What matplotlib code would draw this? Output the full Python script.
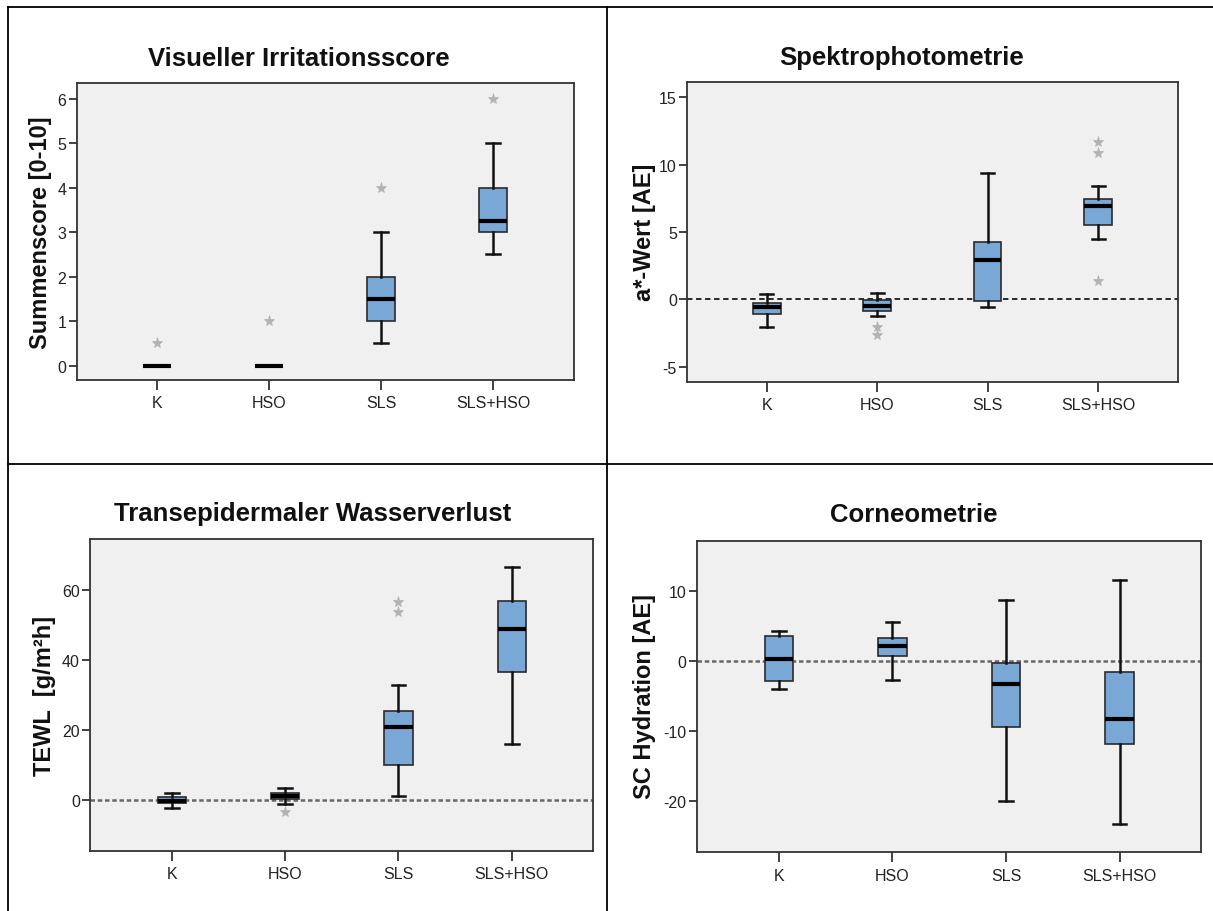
import matplotlib
matplotlib.use("Agg")
import matplotlib.pyplot as plt
from matplotlib.lines import Line2D

plt.rcParams['font.family'] = ['Liberation Sans', 'DejaVu Sans']

W_PX, H_PX = 1213, 912

groups = ['K', 'HSO', 'SLS', 'SLS+HSO']

# Visueller Irritationsscore
vis_q1 = [0.0, 0.0, 1.0, 3.0]
vis_med = [0.0, 0.0, 1.5, 3.25]
vis_q3 = [0.0, 0.0, 2.0, 4.0]
vis_lo = [0.0, 0.0, 0.5, 2.5]
vis_hi = [0.0, 0.0, 3.0, 5.0]
vis_out = [[0.5], [1.0], [4.0], [6.0]]

# Spektrophotometrie
spk_q1 = [-1.09, -0.84, -0.12, 5.54]
spk_med = [-0.59, -0.47, 2.92, 6.96]
spk_q3 = [-0.27, -0.05, 4.26, 7.45]
spk_lo = [-2.08, -1.26, -0.59, 4.46]
spk_hi = [0.42, 0.45, 9.41, 8.42]
spk_out = [[], [-2.03, -2.62], [], [11.7, 10.9, 1.39]]

# Transepidermaler Wasserverlust
tew_q1 = [-0.95, 0.2, 10.0, 36.5]
tew_med = [-0.2, 1.05, 20.9, 48.8]
tew_q3 = [0.76, 1.9, 25.5, 56.7]
tew_lo = [-2.3, -1.1, 1.14, 15.9]
tew_hi = [1.9, 3.5, 32.8, 66.3]
tew_out = [[], [-3.5], [56.4, 53.5], []]

# Corneometrie
cor_q1 = [-2.76, 0.71, -9.37, -11.79]
cor_med = [0.29, 2.14, -3.23, -8.27]
cor_q3 = [3.66, 3.38, -0.24, -1.57]
cor_lo = [-3.9, -2.66, -19.9, -23.2]
cor_hi = [4.33, 5.56, 8.75, 11.6]
cor_out = [[], [], [], []]


def stats(q1, med, q3, lo, hi, out):
    return [dict(q1=a, med=b, q3=c, whislo=d, whishi=e, fliers=f, label=g)
            for a, b, c, d, e, f, g in zip(q1, med, q3, lo, hi, out, groups)]


def rect(l, t, r, b):
    return [l / W_PX, 1 - b / H_PX, (r - l) / W_PX, (b - t) / H_PX]


def fx(x):
    return x / W_PX


def fy(y):
    return 1 - y / H_PX


panels = [
    dict(data=stats(vis_q1, vis_med, vis_q3, vis_lo, vis_hi, vis_out),
         box=(76.6, 84.3, 573.8, 381.0), ylim=(-0.32, 6.345), ticks=[0, 1, 2, 3, 4, 5, 6],
         title='Visueller Irritationsscore', tpos=(299, 66),
         ylabel='Summenscore [0-10]', lpos=(41, 232.5), zero=None),
    dict(data=stats(spk_q1, spk_med, spk_q3, spk_lo, spk_hi, spk_out),
         box=(687.2, 83.3, 1177.7, 382.7), ylim=(-6.11, 16.11), ticks=[-5, 0, 5, 10, 15],
         title='Spektrophotometrie', tpos=(902, 65),
         ylabel='a*-Wert [AE]', lpos=(645, 232.5), zero=('#1a1a1a', 1.3, (3, 2))),
    dict(data=stats(tew_q1, tew_med, tew_q3, tew_lo, tew_hi, tew_out),
         box=(90.3, 540.0, 593.3, 851.7), ylim=(-14.45, 74.4), ticks=[0, 20, 40, 60],
         title='Transepidermaler Wasserverlust', tpos=(312.6, 520.7),
         ylabel='TEWL  [g/m²h]', lpos=(44.5, 695.6), zero=('#686868', 1.8, (1.8, 1.1))),
    dict(data=stats(cor_q1, cor_med, cor_q3, cor_lo, cor_hi, cor_out),
         box=(696.9, 542.3, 1201.4, 853.3), ylim=(-27.25, 17.1), ticks=[-20, -10, 0, 10],
         title='Corneometrie', tpos=(914, 521.7),
         ylabel='SC Hydration [AE]', lpos=(644.7, 696.5), zero=('#686868', 1.8, (1.8, 1.1))),
]

fig = plt.figure(figsize=(W_PX / 100, H_PX / 100), dpi=100)

for p in panels:
    ax = fig.add_axes(rect(*p['box']))
    ax.set_facecolor('#f0f0f0')
    if p['zero'] is not None:
        col, lw, dash = p['zero']
        ax.axhline(0, color=col, lw=lw, linestyle=(0, dash), zorder=1)
    ax.bxp(p['data'], positions=[1, 2, 3, 4], widths=0.25, patch_artist=True,
           boxprops=dict(facecolor='#79a7d6', edgecolor='#2b2b2b', linewidth=1.2),
           whiskerprops=dict(color='#111111', linewidth=1.8),
           capprops=dict(color='#111111', linewidth=1.8),
           medianprops=dict(color='#000000', linewidth=3.0, solid_capstyle='butt'),
           flierprops=dict(marker='*', markersize=8, markerfacecolor='#b2b2b2',
                           markeredgecolor='#b2b2b2', markeredgewidth=0.5,
                           linestyle='none'),
           capwidths=0.12, zorder=2)
    ax.set_xlim(0.28, 4.72)
    ax.set_ylim(*p['ylim'])
    ax.set_yticks(p['ticks'])
    ax.set_yticklabels([str(t) for t in p['ticks']])
    ax.set_xticks([1, 2, 3, 4])
    ax.set_xticklabels(groups)
    ax.tick_params(axis='x', length=7, width=1.3, color='#333333', pad=4,
                   labelsize=11.5, labelcolor='#222222')
    ax.tick_params(axis='y', length=5.5, width=1.3, color='#333333', pad=2,
                   labelsize=11.5, labelcolor='#222222')
    for s in ax.spines.values():
        s.set_color('#333333')
        s.set_linewidth(1.3)
    fig.text(fx(p['tpos'][0]), fy(p['tpos'][1]), p['title'], ha='center', va='baseline',
             fontsize=18.5, fontweight='bold', color='#111111')
    fig.text(fx(p['lpos'][0]), fy(p['lpos'][1]), p['ylabel'], ha='center', va='center',
             rotation=90, fontsize=17, fontweight='bold', color='#111111')

# table borders
border = dict(color='black', linewidth=1.3, transform=fig.transFigure)
fig.add_artist(Line2D([fx(8), fx(1213)], [fy(8), fy(8)], **border))
fig.add_artist(Line2D([fx(8), fx(8)], [fy(8), fy(912)], **border))
fig.add_artist(Line2D([fx(607), fx(607)], [fy(8), fy(912)], **border))
fig.add_artist(Line2D([fx(8), fx(1213)], [fy(464.5), fy(464.5)], **border))

fig.savefig('out.png', dpi=100, facecolor='white')
